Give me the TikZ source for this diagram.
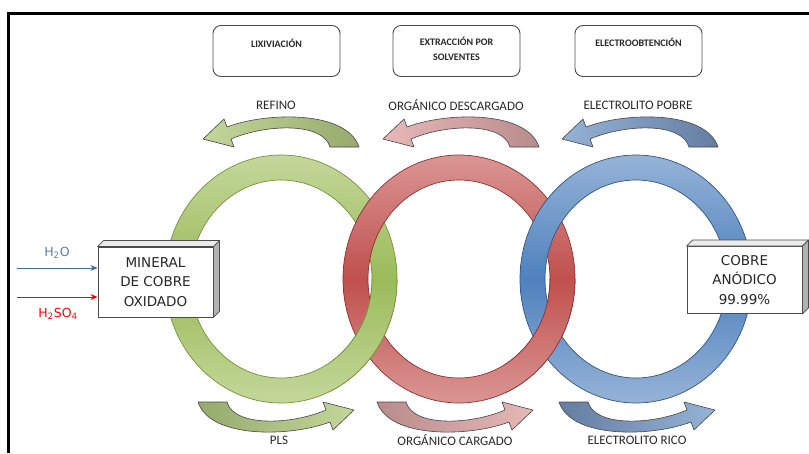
\documentclass[tikz,border=0pt]{standalone}
\usepackage{fontspec}
\setmainfont{Carlito}
\newfontfamily\verd{DejaVu Sans}
\usetikzlibrary{arrows.meta,calc}

% ring colours: light rim, saturated middle, edge line
\definecolor{grL}{RGB}{196,215,155}
\definecolor{grM}{RGB}{155,187,89}
\definecolor{grE}{RGB}{118,146,60}
\definecolor{rdL}{RGB}{218,150,148}
\definecolor{rdM}{RGB}{192,80,77}
\definecolor{rdE}{RGB}{140,50,48}
\definecolor{blL}{RGB}{149,179,215}
\definecolor{blM}{RGB}{79,129,189}
\definecolor{blE}{RGB}{50,85,130}
% curved flow arrows: light head end, dark tail end
\definecolor{gaL}{RGB}{196,215,155}
\definecolor{gaD}{RGB}{150,170,110}
\definecolor{raL}{RGB}{230,184,183}
\definecolor{raD}{RGB}{185,140,140}
\definecolor{baL}{RGB}{149,179,215}
\definecolor{baD}{RGB}{100,125,160}
\definecolor{arrowedge}{RGB}{70,70,70}
\definecolor{waterblue}{RGB}{79,129,189}
\definecolor{waterline}{RGB}{68,105,155}
\definecolor{boxline}{RGB}{75,75,75}
\definecolor{txtdark}{RGB}{40,40,40}

% ring band: outer and inner ellipse, filled with a vertical shading
\newcommand{\ringband}[5]{%
  \shade[top color=#3, bottom color=#3, middle color=#4, even odd rule]
    (#1,#2) ellipse [x radius=116, y radius=124]
    (#1,#2) ellipse [x radius=91, y radius=99];
  \draw[#5, line width=0.7pt] (#1,#2) ellipse [x radius=116, y radius=124];
  \draw[#5, line width=0.7pt] (#1,#2) ellipse [x radius=91, y radius=99];
}

% curved process arrow; #3 = 1 points left (upper row), -1 points right (lower row)
\newcommand{\flowarrow}[5]{%
  \shadedraw[left color=#4, right color=#5, draw=arrowedge, line width=0.6pt, line join=round]
    ({#1-54*#3},{#2-6*#3}) .. controls ({#1-15*#3},{#2-21*#3}) and ({#1+66*#3},{#2-23*#3}) .. ({#1+78*#3},{#2+14*#3})
    -- ({#1+49*#3},{#2+14*#3}) .. controls ({#1+42*#3},{#2-11*#3}) and ({#1-15*#3},{#2-9*#3}) .. ({#1-50*#3},{#2+6*#3})
    -- ({#1-47*#3},{#2+14*#3}) -- ({#1-78*#3},{#2+6*#3}) -- ({#1-57*#3},{#2-14*#3}) -- cycle;
}

\tikzset{
  stagebox/.style={draw=boxline, line width=0.9pt, rounded corners=8pt, fill=white,
    minimum width=127pt, minimum height=51pt, inner sep=0pt},
  stagetext/.style={font=\bfseries\fontsize{10}{15}\selectfont, text=txtdark, align=center, inner sep=0pt},
  flowlabel/.style={font=\fontsize{13}{15}\selectfont, text=txtdark, inner sep=0pt},
  solidbox/.style={draw=boxline, line width=0.9pt, fill=white, align=center, inner sep=0pt,
    font=\verd\fontsize{13.5}{19.5}\selectfont, text=black!85},
  topface/.style={fill=black!8, draw=boxline, line width=0.7pt, line join=round},
  sideface/.style={fill=black!30, draw=boxline, line width=0.7pt, line join=round},
  feedlabel/.style={font=\verd\fontsize{12.5}{15}\selectfont, inner sep=0pt},
  feedarrow/.style={line width=1pt, -{Stealth[length=7pt,width=6pt]}}
}

\begin{document}
\begin{tikzpicture}[x=1pt, y=-1pt]
\useasboundingbox (0,0) rectangle (809,453);

% frame
\draw[line width=3pt] (8.5,453) -- (8.5,13.5) -- (809,13.5);

% stage boxes
\node[stagebox] (lix) at (276.5,51) {};
\node[stagebox] (ext) at (456.5,51) {};
\node[stagebox] (ele) at (638.5,51) {};
\node[stagetext] (lixT) at (276.5,43) {LIXIVIACIÓN};
\node[stagetext] (extT) at (456.5,49) {EXTRACCIÓN POR\\SOLVENTES};
\node[stagetext] (eleT) at (638.5,42) {ELECTROOBTENCIÓN};

% upper flow labels and arrows
\node[flowlabel] (refino) at (276,105) {REFINO};
\node[flowlabel] (orgdes) at (456,105) {ORGÁNICO DESCARGADO};
\node[flowlabel] (elepob) at (638,105) {ELECTROLITO POBRE};
\flowarrow{281}{133}{1}{gaL}{gaD}
\flowarrow{461}{133}{1}{raL}{raD}
\flowarrow{640}{133}{1}{baL}{baD}

% interlocked rings
\ringband{281}{279}{grL}{grM}{grE}
\ringband{459}{279}{rdL}{rdM}{rdE}
\ringband{636}{279}{blL}{blM}{blE}
\begin{scope}
  \clip (330,279) rectangle (412,430);
  \ringband{281}{279}{grL}{grM}{grE}
\end{scope}
\begin{scope}
  \clip (505,279) rectangle (592,430);
  \ringband{459}{279}{rdL}{rdM}{rdE}
\end{scope}

% lower flow arrows and labels
\flowarrow{276}{416}{-1}{gaD}{gaL}
\flowarrow{455}{416}{-1}{raD}{raL}
\flowarrow{637}{416}{-1}{baD}{baL}
\node[flowlabel] (pls) at (279,440) {PLS};
\node[flowlabel] (orgcar) at (455,440) {ORGÁNICO CARGADO};
\node[flowlabel] (elerico) at (637,440) {ELECTROLITO RICO};

% feed box
\node[solidbox, minimum width=115pt, minimum height=70pt] (mineral) at (155.5,282)
  {MINERAL\\DE COBRE\\OXIDADO};
\draw[topface] (mineral.north west) -- ++(6,-6) -- ($(mineral.north east)+(6,-6)$) -- (mineral.north east) -- cycle;
\draw[sideface] (mineral.north east) -- ++(6,-6) -- ($(mineral.south east)+(6,-6)$) -- (mineral.south east) -- cycle;

% product box
\node[solidbox, minimum width=115pt, minimum height=67pt] (cobre) at (744.5,280)
  {COBRE\\ANÓDICO\\99.99\%};
\draw[topface] (cobre.north west) -- ++(6,-6) -- ($(cobre.north east)+(6,-6)$) -- (cobre.north east) -- cycle;
\draw[sideface] (cobre.north east) -- ++(6,-6) -- ($(cobre.south east)+(6,-6)$) -- (cobre.south east) -- cycle;

% reagent feeds
\coordinate (waterS) at (17,268);
\coordinate (acidS) at (17,297);
\draw[feedarrow, waterline] (waterS) -- (mineral.west |- waterS);
\draw[feedarrow, red] (acidS) -- (mineral.west |- acidS);
\node[feedlabel, text=waterblue] (water) at (57,253) {H\textsubscript{2}O};
\node[feedlabel, text=red] (acid) at (58,314) {H\textsubscript{2}SO\textsubscript{4}};
\end{tikzpicture}
\end{document}
